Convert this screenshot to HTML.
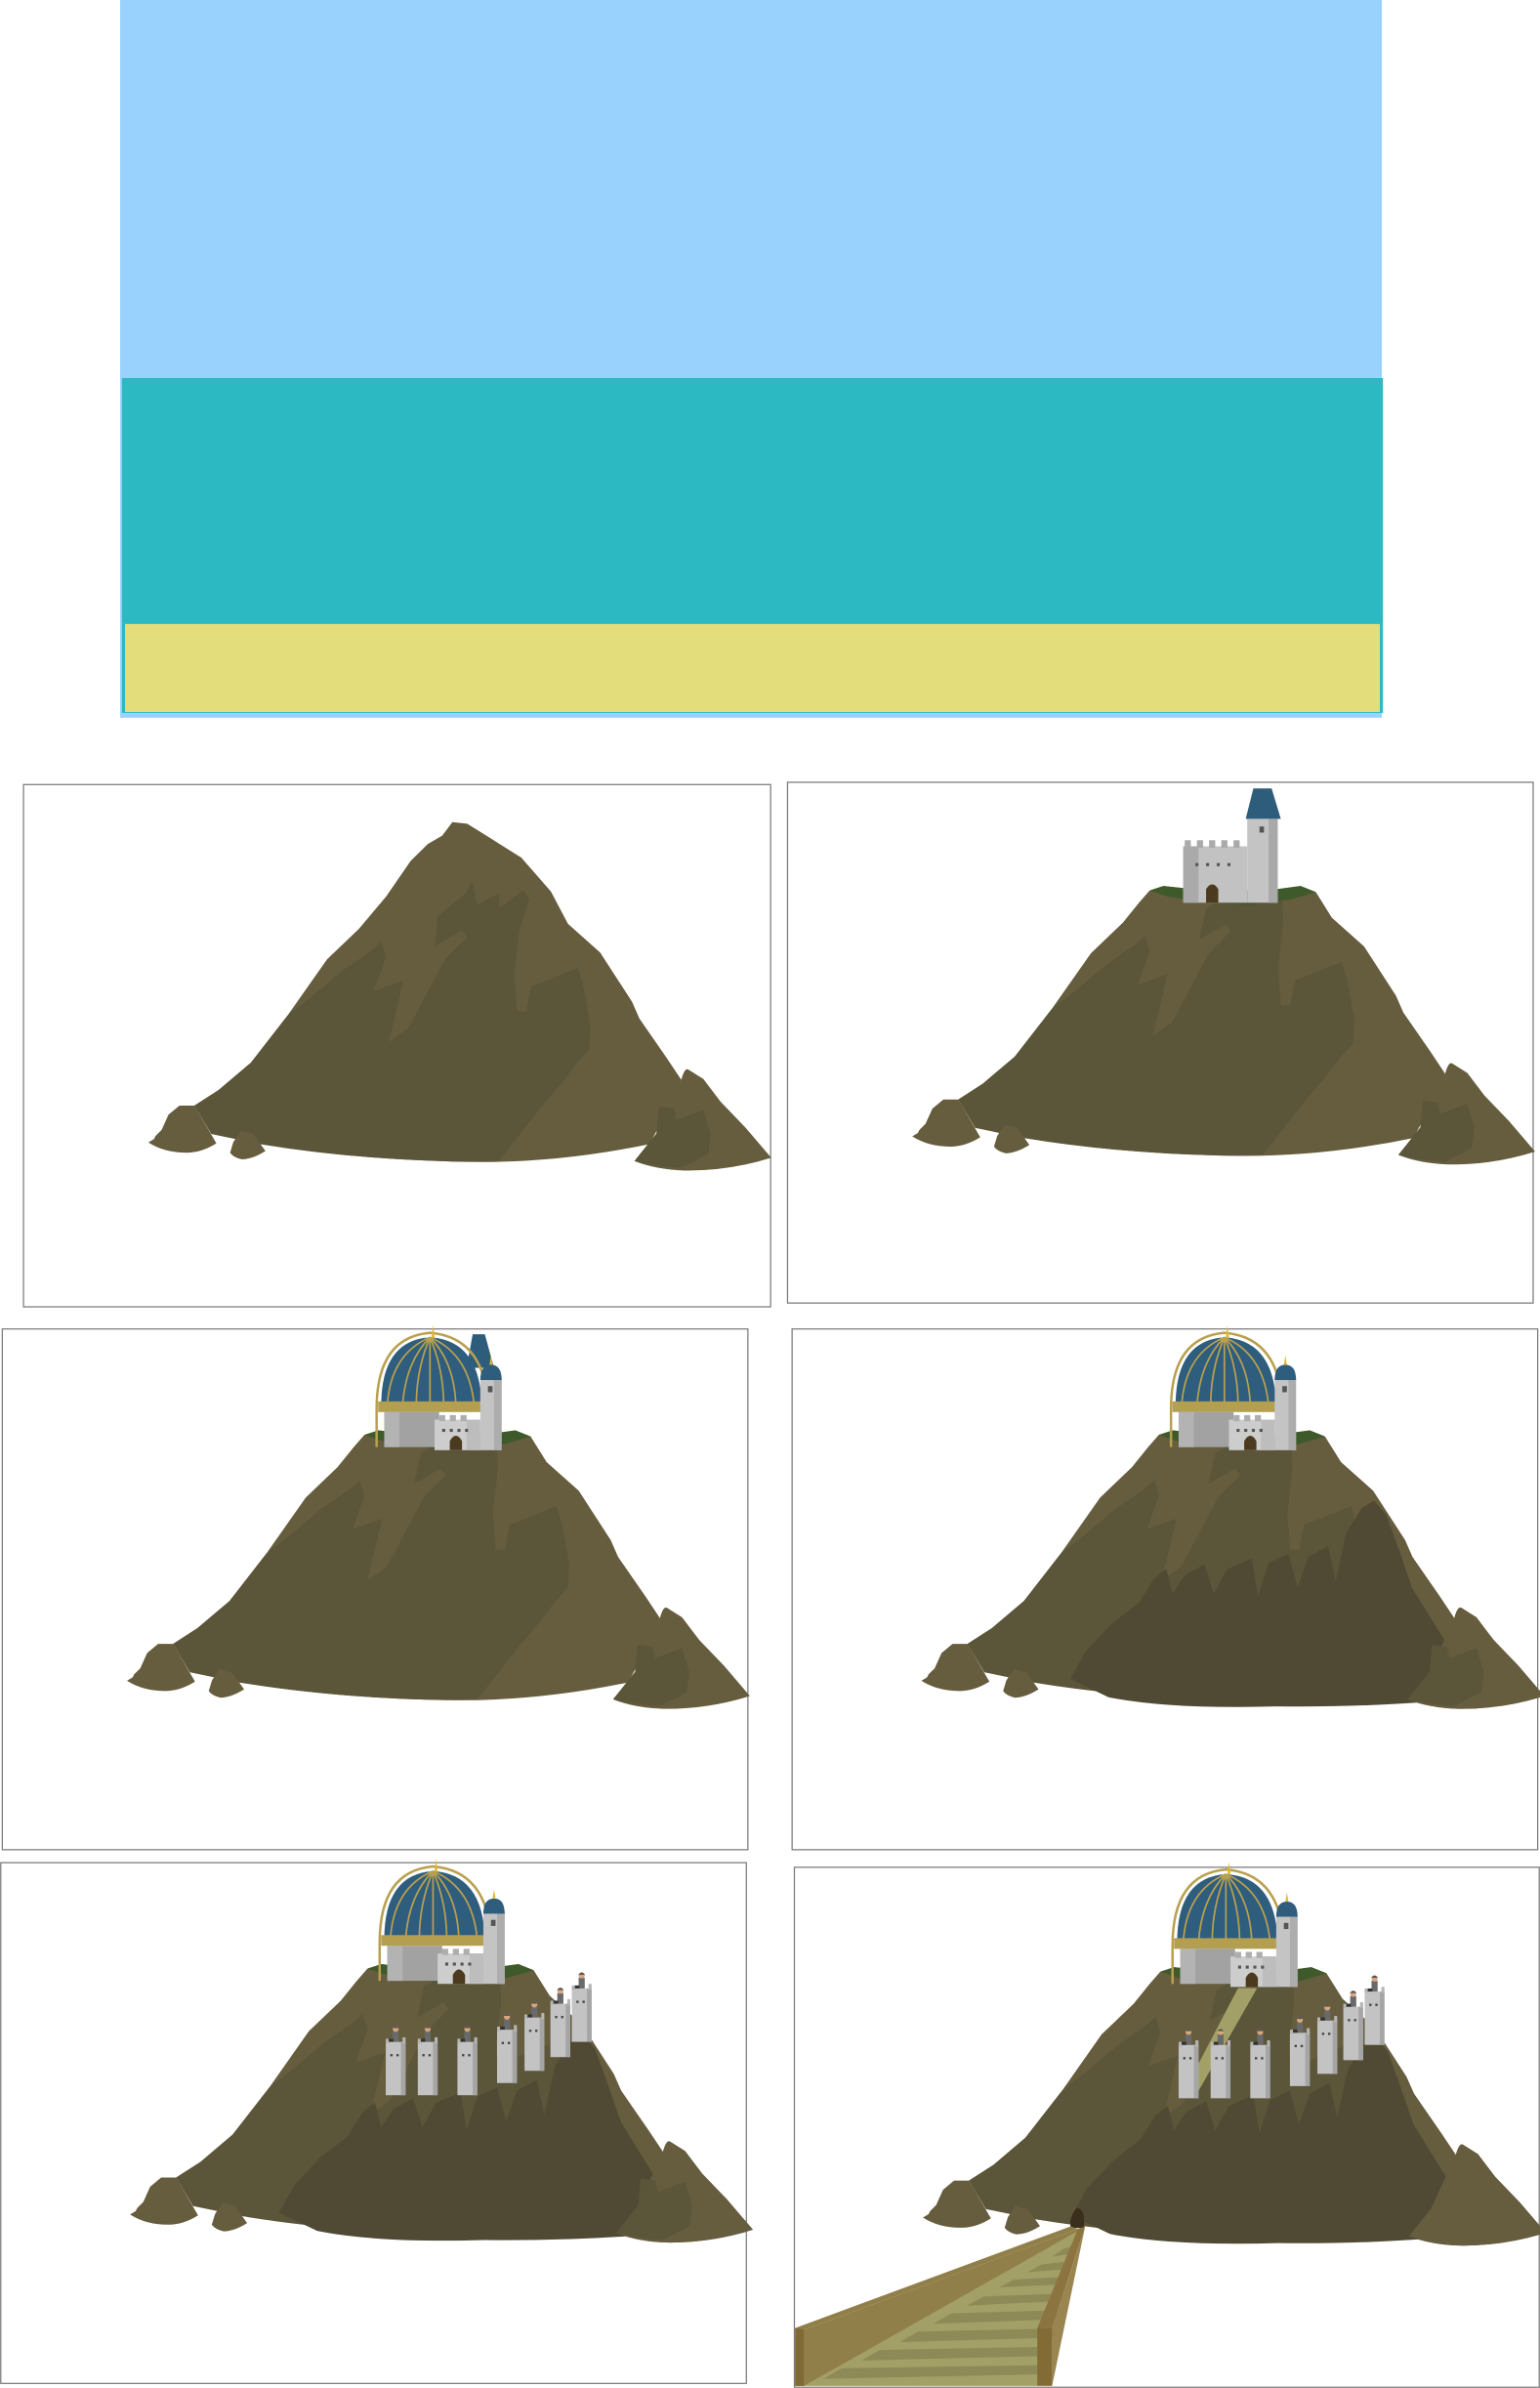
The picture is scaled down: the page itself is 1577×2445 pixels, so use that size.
<!DOCTYPE html>
<html><head><meta charset="utf-8"><style>
html,body{margin:0;padding:0;background:#fff;}
svg{display:block;}
</style></head><body>
<svg width="1577" height="2445" viewBox="0 0 1010 1566" preserveAspectRatio="none" xmlns="http://www.w3.org/2000/svg" xmlns:xlink="http://www.w3.org/1999/xlink">
<defs>
  <g id="rocks">
    <path fill="#665c3e" d="M117.7,725 L127.5,725 L141.9,749.8 Q132,756 122.5,755.9 Q108,756 97.3,749.2 L101,747 L102,745 L106,741 L110.5,731 Z"/>
    <path fill="#665c3e" d="M158,741.4 L166,743.6 L174.1,754.8 Q166,760 158.7,760.3 Q153,759 150.9,755.9 L153,749 Z"/>
    <path fill="#665c3e" d="M416.1,761.4 L430.5,743.4 L446.8,708.1 Q449,700 451.5,701.4 L461.3,707.6 L472.6,722.5 L488.7,739.2 L505.8,759.2 Q478,768 449,767.6 Q430,767 416.1,761.4 Z"/>
    <path fill="#5b5539" d="M432.2,725.7 L442,727 L443.5,734.6 L461.3,727.8 L466,743.6 L464.3,756.9 L446.8,765.8 Q430,765 416.1,761.4 L430.5,743.4 Z"/>
  </g>
  <g id="mtn-full">
    <path fill="#665c3e" d="M127.5,725 L143.5,714.7 L164.5,696.9 L188.7,665.8 L214.5,629.1 L235.4,609.1 L253.2,588 L269.3,564.6 L280.6,553.5 L290,548 L296.7,539.1 L306.4,540.2 L322.5,550.2 L341.9,562.4 L361.3,584.6 L372.5,605.8 L393.6,624.6 L414.5,656.9 L419.4,668 L437.1,693.6 L446.8,708.1 L440,725 L425.8,750.3 Q360,764 296.7,761.7 Q230,760 170.9,750.3 L138.6,743.6 Z"/>
    <path fill="#5b5539" d="M203.2,654.7 L224.8,636.5 L243.5,623.5 L250,617.9 L253,627.9 L245,650 L264.5,643 L261.3,656.9 L254.8,683.6 L267.7,674.5 L291.9,629.1 L306.4,614.6 L303,610 L285.6,620.1 L287,601 L306,585.3 L309.6,577.9 L313,593.5 L327.4,585.7 L327.4,595.8 L343.6,583.6 L347,590 L340.5,610 L337.3,638.9 L339,663.2 L345.1,663.2 L348.4,646.8 L354.8,644.6 L379,634.7 L382.3,645.7 L387.2,672.4 L386.4,688 L377.4,698 L369.3,709 L354.8,726 L327.4,761 Q310,762 296.7,761.7 Q230,760 170.9,750.3 L138.6,743.6 L127.5,725 L143.5,714.7 L164.5,696.9 L188.7,665.8 Z"/>
    <use xlink:href="#rocks"/>
  </g>
  <g id="mtn-flat">
    <path fill="#665c3e" d="M127.5,725 L143.5,714.7 L164.5,696.9 L188.7,665.8 L214.5,629.1 L235.4,609.1 L246,596 L253,588 L262,585 L290,588 L330,588 L352,585 L362,589 L372.5,605.8 L393.6,624.6 L414.5,656.9 L419.4,668 L437.1,693.6 L446.8,708.1 L440,725 L425.8,750.3 Q360,764 296.7,761.7 Q230,760 170.9,750.3 L138.6,743.6 Z"/>
    <path fill="#5b5539" d="M203.2,654.7 L224.8,636.5 L243.5,623.5 L250,617.9 L253,627.9 L245,650 L264.5,643 L261.3,656.9 L254.8,683.6 L267.7,674.5 L291.9,629.1 L306.4,614.6 L303,610 L285.6,620.1 L290,600 L300,594 L313,593.5 L327.4,592 L340,593 L340.5,610 L337.3,638.9 L339,663.2 L345.1,663.2 L348.4,646.8 L354.8,644.6 L379,634.7 L382.3,645.7 L387.2,672.4 L386.4,688 L377.4,698 L369.3,709 L354.8,726 L327.4,761 Q310,762 296.7,761.7 Q230,760 170.9,750.3 L138.6,743.6 L127.5,725 L143.5,714.7 L164.5,696.9 L188.7,665.8 Z"/>
    <path fill="#3f5a2a" d="M253,588 L262,585 L290,588 L330,588 L352,585 L362,589 L345,594 L320,597 L290,596 L265,592 Z"/>
    <use xlink:href="#rocks"/>
  </g>
  <path id="dark-overlay" fill="#504a35" d="M195,748 L205,730 L222,712 L240,698 L250,682 L258,676 L262,692 L270,680 L283,673 L289,692 L298,676 L314,669 L318,694 L325,672 L338,666 L344,688 L351,668 L364,661 L369,684 L376,652 L386,636 L394,631 L402,640 L410,662 L419,688 L430,706 L440,722 L456,736 L478,746 L492,756 Q420,767 330,766 Q260,768 220,760 Z"/>
  <g id="castle1">
    <rect x="275" y="559" width="42" height="37" fill="#c2c2c2"/>
    <rect x="275" y="559" width="10" height="37" fill="#aaaaaa"/>
    <rect x="276" y="555" width="4" height="5" fill="#aaa"/><rect x="284" y="555" width="4" height="5" fill="#aaa"/><rect x="292" y="555" width="4" height="5" fill="#aaa"/><rect x="300" y="555" width="4" height="5" fill="#aaa"/><rect x="308" y="555" width="4" height="5" fill="#aaa"/>
    <rect x="283" y="570" width="2" height="2" fill="#555"/><rect x="290" y="570" width="2" height="2" fill="#555"/><rect x="297" y="570" width="2" height="2" fill="#555"/><rect x="304" y="570" width="2" height="2" fill="#555"/>
    <path d="M290,596 L290,587 Q294,581 298,587 L298,596 Z" fill="#4c3a1e"/>
    <rect x="317" y="541" width="20" height="55" fill="#c4c4c4"/>
    <rect x="331" y="541" width="6" height="55" fill="#a9a9a9"/>
    <rect x="325" y="546" width="3" height="4" fill="#555"/>
    <path d="M316,541 L321,521 L333,521 L339,541 Z" fill="#2d5d7b"/>
  </g>
  <g id="castle2">
    <path d="M261,596 L261,571 Q261,524 296,521 Q332,524 334,569" fill="none" stroke="#b9a04f" stroke-width="1.6"/>
    <path d="M264,569 Q264,526 296,524 Q329,526 330,569 Z" fill="#2e5d7e"/>
    <path d="M296,524 L296,569 M296,524 Q280,540 278,569 M296,524 Q312,540 313,569 M296,524 Q270,535 268,569 M296,524 Q322,535 325,569 M296,524 Q287,545 287,569 M296,524 Q305,545 305,569" fill="none" stroke="#b9a04f" stroke-width="1.1"/>
    <path d="M298,516 L299,524 L297,524 Z" fill="#e0b830"/>
    <rect x="262" y="566" width="70" height="7" fill="#b39f4f"/>
    <rect x="266" y="573" width="36" height="23" fill="#a2a2a2"/>
    <rect x="266" y="573" width="10" height="23" fill="#b3b3b3"/>
    <rect x="299" y="578" width="30" height="20" fill="#cdcdcd"/>
    <rect x="320" y="578" width="9" height="20" fill="#bdbdbd"/>
    <rect x="302" y="575" width="4" height="4" fill="#aeaeae"/><rect x="309" y="575" width="4" height="4" fill="#aeaeae"/><rect x="316" y="575" width="4" height="4" fill="#aeaeae"/>
    <rect x="304" y="584" width="2" height="2" fill="#555"/><rect x="309" y="584" width="2" height="2" fill="#555"/><rect x="314" y="584" width="2" height="2" fill="#555"/><rect x="319" y="584" width="2" height="2" fill="#555"/>
    <path d="M309,598 L309,592 Q313,585 317,592 L317,598 Z" fill="#4c3a1e"/>
    <rect x="329" y="551" width="14" height="47" fill="#c4c4c4"/>
    <rect x="338" y="551" width="5" height="47" fill="#adadad"/>
    <path d="M329,552 Q329,542 336,542 Q343,542 343,552 Z" fill="#2e5d7e"/>
    <path d="M336,536 L337,542 L335,542 Z" fill="#e0b830"/>
    <rect x="334" y="556" width="3" height="4" fill="#555"/>
  </g>
  <g id="guard">
    <rect x="0" y="0" width="13" height="35" fill="#c3c3c3"/>
    <rect x="10" y="0" width="3" height="35" fill="#a5a5a5"/>
    <rect x="0" y="-2" width="2" height="3" fill="#b5b5b5"/><rect x="11" y="-3" width="2" height="4" fill="#b5b5b5"/>
    <rect x="3" y="8" width="1.5" height="1.5" fill="#444"/><rect x="7" y="8" width="1.5" height="1.5" fill="#444"/>
    <rect x="4.5" y="-7" width="4" height="7" fill="#6a6a6a"/>
    <circle cx="6.5" cy="-8.5" r="2" fill="#d9a57b"/>
    <path d="M4.3,-9 Q6.5,-12 8.7,-9 Z" fill="#555"/>
    <rect x="2" y="-2" width="3" height="2" fill="#333"/>
  </g>
  <g id="guards">
    <use xlink:href="#guard" x="265" y="636"/>
    <use xlink:href="#guard" x="286" y="636"/>
    <use xlink:href="#guard" x="312" y="636"/>
    <use xlink:href="#guard" x="338" y="628"/>
    <use xlink:href="#guard" x="356" y="620"/>
    <use xlink:href="#guard" x="373" y="611"/>
    <use xlink:href="#guard" x="387" y="601"/>
  </g>
</defs>

<rect x="78.8" y="0" width="827.5" height="470.7" fill="#99d3fd"/>
<rect x="80" y="247.9" width="827" height="219.6" fill="#2cb9c2"/>
<rect x="82" y="409.2" width="823" height="57.7" fill="#e4dd7b"/>

<g>
  <rect x="15.4" y="514.5" width="490" height="342.5" fill="#fff" stroke="#7a7a7a" stroke-width="0.8"/>
  <use xlink:href="#mtn-full"/>
</g>

<g>
  <rect x="516.5" y="513" width="489" height="341.5" fill="#fff" stroke="#7a7a7a" stroke-width="0.8"/>
  <g transform="translate(501,-4)">
    <use xlink:href="#mtn-flat"/>
    <use xlink:href="#castle1"/>
  </g>
</g>

<g>
  <rect x="1.5" y="871.5" width="489" height="341.5" fill="#fff" stroke="#7a7a7a" stroke-width="0.8"/>
  <g transform="translate(-14,353)">
    <use xlink:href="#mtn-flat"/>
    <path d="M320,544 L324,522 L332,522 L338,544 Z" fill="#2d5d7b"/>
    <use xlink:href="#castle2"/>
  </g>
</g>

<g>
  <rect x="519.5" y="871.5" width="489" height="341.5" fill="#fff" stroke="#7a7a7a" stroke-width="0.8"/>
  <g transform="translate(507,353)">
    <use xlink:href="#mtn-flat"/>
    <use xlink:href="#dark-overlay"/>
    <path fill="#665c3e" d="M416.1,761.4 L430.5,743.4 L446.8,708.1 Q449,700 451.5,701.4 L461.3,707.6 L472.6,722.5 L488.7,739.2 L505.8,759.2 Q478,768 449,767.6 Q430,767 416.1,761.4 Z"/>
    <path fill="#5b5539" d="M432.2,725.7 L442,727 L443.5,734.6 L461.3,727.8 L466,743.6 L464.3,756.9 L446.8,765.8 Q430,765 416.1,761.4 L430.5,743.4 Z"/>
    <use xlink:href="#castle2"/>
  </g>
</g>

<g>
  <rect x="0.5" y="1221.5" width="489" height="341.5" fill="#fff" stroke="#7a7a7a" stroke-width="0.8"/>
  <g transform="translate(-12,703)">
    <use xlink:href="#mtn-flat"/>
    <use xlink:href="#dark-overlay"/>
    <path fill="#665c3e" d="M416.1,761.4 L430.5,743.4 L446.8,708.1 Q449,700 451.5,701.4 L461.3,707.6 L472.6,722.5 L488.7,739.2 L505.8,759.2 Q478,768 449,767.6 Q430,767 416.1,761.4 Z"/>
    <path fill="#5b5539" d="M432.2,725.7 L442,727 L443.5,734.6 L461.3,727.8 L466,743.6 L464.3,756.9 L446.8,765.8 Q430,765 416.1,761.4 L430.5,743.4 Z"/>
    <use xlink:href="#castle2"/>
    <use xlink:href="#guards"/>
  </g>
</g>

<g>
  <rect x="521" y="1224.5" width="488.5" height="341" fill="#fff" stroke="#7a7a7a" stroke-width="0.8"/>
  <g transform="translate(508,705)">
    <use xlink:href="#mtn-flat"/>
    <use xlink:href="#dark-overlay"/>
    <path fill="#665c3e" d="M416.1,761.4 L430.5,743.4 L446.8,708.1 Q449,700 451.5,701.4 L461.3,707.6 L472.6,722.5 L488.7,739.2 L505.8,759.2 Q478,768 449,767.6 Q430,767 416.1,761.4 Z"/>
    <path d="M304,598.7 L316.5,598.7 L277,668 L267.7,668 Z" fill="#a3a067"/>
    <use xlink:href="#castle2"/>
    <use xlink:href="#guards"/>
  </g>
  <path d="M702,1461 L702,1456 Q704.5,1448 707,1448 Q711,1449 711,1456 L711,1461 Z" fill="#3a2f1c"/>
  <g>
    <path d="M527.5,1564.6 L680.3,1564.6 L706.9,1461.7 Z" fill="#a3a067"/>
    <path d="M540,1560 L682,1557 L684,1551 L552,1553 Z M565,1548 L686,1545 L688,1539 L577,1541 Z M590,1536 L690,1533 L692,1527 L602,1529 Z M612,1524 L693,1521 L695,1515 L624,1517 Z M634,1512 L696,1509 L697,1504 L645,1506 Z M655,1500 L698,1498 L699,1493 L665,1495 Z M674,1490 L700,1488 L701,1483 L683,1485 Z M690,1480 L702,1478 L703,1473 L697,1475 Z" fill="#8e8a57"/>
    <path d="M521.5,1526.7 L702.2,1460 L706.9,1461.7 L527.5,1527.8 L527.5,1564.6 L521.5,1564.6 Z" fill="#917f4a"/>
    <path d="M527.5,1527.8 L706.9,1461.7 L706.9,1463 L527.5,1564.6 Z" fill="#917f4a"/>
    <path d="M521.5,1526.7 L527.5,1527.8 L527.5,1564.6 L521.5,1564.6 Z" fill="#7f6a35"/>
    <path d="M680.3,1526.7 L690,1526.7 L711.7,1460 L706.9,1461.7 Z" fill="#8c7440"/>
    <path d="M690,1526.7 L711.7,1460 L690,1564.6 Z" fill="#9a8550"/>
    <rect x="680.3" y="1526.7" width="9.7" height="37.9" fill="#836b35"/>
  </g>
</g>
</svg>
</body></html>
